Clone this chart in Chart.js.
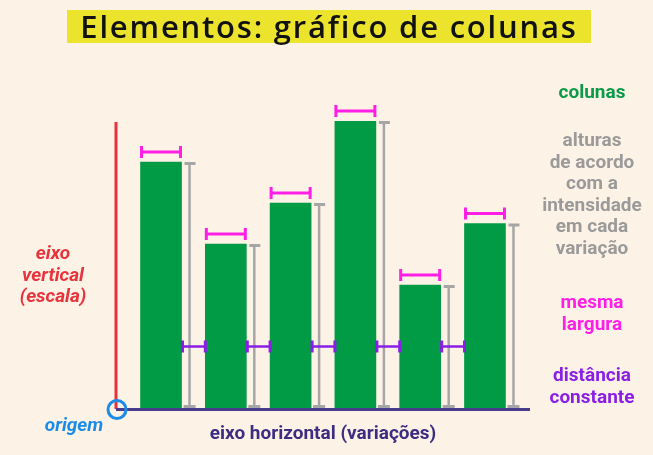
<!DOCTYPE html>
<html>
<head>
<meta charset="utf-8">
<script src="https://cdn.jsdelivr.net/npm/chart.js@4/dist/chart.umd.min.js"></script>
<style>
    body { margin: 0; background: #fcf2e6; }
    #wrap { position: relative; width: 653px; height: 455px; }
    canvas { position: absolute; left: 0; top: 0; }
    #title {
        position: absolute; left: 67px; top: 10px; width: 524px; height: 33px;
        background: #ece42c; color: #111;
        font-family: "Open Sans", sans-serif; font-size: 31px; font-weight: 600;
        line-height: 33px; text-align: center; letter-spacing: 1.8px;
    }
    .lbl {
        position: absolute; white-space: nowrap; text-align: center;
        font-family: "Liberation Sans Narrow", "Roboto", sans-serif;
        font-weight: bold; font-size: 19px; line-height: 21.5px;
    }
</style>
</head>
<body>
<div id="wrap">
    <canvas id="chart" width="653" height="455"></canvas>
    <div id="title">Elementos: gráfico de colunas</div>
    <div class="lbl" style="left:532px;top:81px;width:120px;color:#0a9a48;">colunas</div>
    <div class="lbl" style="left:532px;top:129px;width:120px;color:#9a9a9a;">alturas<br>de acordo<br>com a<br>intensidade<br>em cada<br>variação</div>
    <div class="lbl" style="left:532px;top:291px;width:120px;color:#ff1ee6;">mesma<br>largura</div>
    <div class="lbl" style="left:532px;top:364px;width:120px;color:#8a1ee6;">distância<br>constante</div>
    <div class="lbl" style="left:0px;top:242px;width:106px;color:#e8323c;font-style:italic;">eixo<br>vertical<br>(escala)</div>
    <div class="lbl" style="left:34px;top:414px;width:80px;color:#1b8be8;font-style:italic;">origem</div>
    <div class="lbl" style="left:200px;top:422px;width:246px;color:#3c2d82;">eixo horizontal (variações)</div>
</div>
<script>
    // data
    const variacoes = [1, 2, 3, 4, 5, 6];
    const alturas = [6, 4, 5, 7, 3, 4.5];
    const escalaMax = 7;
    const alturaDistancia = 1.5;

    function line(ctx, x1, y1, x2, y2, color, w) {
        ctx.beginPath();
        ctx.strokeStyle = color;
        ctx.lineWidth = w;
        ctx.moveTo(x1, y1);
        ctx.lineTo(x2, y2);
        ctx.stroke();
    }

    const marcadores = {
        id: 'marcadores',
        afterDatasetsDraw(chart) {
            const ctx = chart.ctx;
            const meta = chart.getDatasetMeta(0);
            const y0 = chart.scales.y.getPixelForValue(0);
            const yd = chart.scales.y.getPixelForValue(alturaDistancia);
            ctx.save();
            ctx.lineCap = 'butt';
            meta.data.forEach((bar, i) => {
                const left = bar.x - bar.width / 2;
                const right = bar.x + bar.width / 2;

                // height marker
                const gx = right + 8;
                line(ctx, gx, bar.y + 1, gx, y0, '#a6a6a6', 2.5);
                line(ctx, gx - 5, bar.y + 1.5, gx + 6, bar.y + 1.5, '#a6a6a6', 3);
                line(ctx, gx - 6, y0 - 1.5, gx + 6, y0 - 1.5, '#a6a6a6', 3);

                // same width
                const my = bar.y - 10;
                line(ctx, left + 1, my, right - 1, my, '#ff1ee6', 3);
                line(ctx, left + 1, my - 6, left + 1, my + 6, '#ff1ee6', 3);
                line(ctx, right - 1, my - 6, right - 1, my + 6, '#ff1ee6', 3);

                // constant distance
                const next = meta.data[i + 1];
                if (next) {
                    const nl = next.x - next.width / 2;
                    line(ctx, right + 1, yd, nl, yd, '#8a1ee6', 2.5);
                    line(ctx, right + 1, yd - 6, right + 1, yd + 6, '#8a1ee6', 3);
                    line(ctx, nl, yd - 6, nl, yd + 6, '#8a1ee6', 3);
                }
            });

            // axes
            const xs = chart.scales.x;
            const ax = xs.getPixelForValue(xs.min);
            const bx = xs.getPixelForValue(xs.max);
            const ytop = chart.scales.y.getPixelForValue(escalaMax);
            line(ctx, ax, ytop + 1, ax, y0 + 1, '#e8313a', 3);
            line(ctx, ax, y0 + 1.5, bx, y0 + 1.5, '#4a3c8c', 3);
            ctx.beginPath();
            ctx.strokeStyle = '#1b8be8';
            ctx.lineWidth = 3;
            ctx.arc(ax + 1, y0 + 1.5, 9, 0, Math.PI * 2);
            ctx.stroke();
            ctx.restore();
        }
    };

    new Chart(document.getElementById('chart'), {
        type: 'bar',
        data: {
            datasets: [{
                data: variacoes.map((v, i) => ({ x: v, y: alturas[i] })),
                backgroundColor: '#009b44',
                borderWidth: 0,
                barThickness: 41
            }]
        },
        options: {
            responsive: false,
            animation: false,
            layout: { padding: { left: 116, right: 123, top: 121, bottom: 47 } },
            scales: {
                x: { type: 'linear', offset: false, min: 0.305, max: 6.695, display: false },
                y: { min: 0, max: escalaMax, display: false }
            },
            plugins: {
                legend: { display: false },
                tooltip: { enabled: false }
            }
        },
        plugins: [marcadores]
    });
</script>
</body>
</html>
